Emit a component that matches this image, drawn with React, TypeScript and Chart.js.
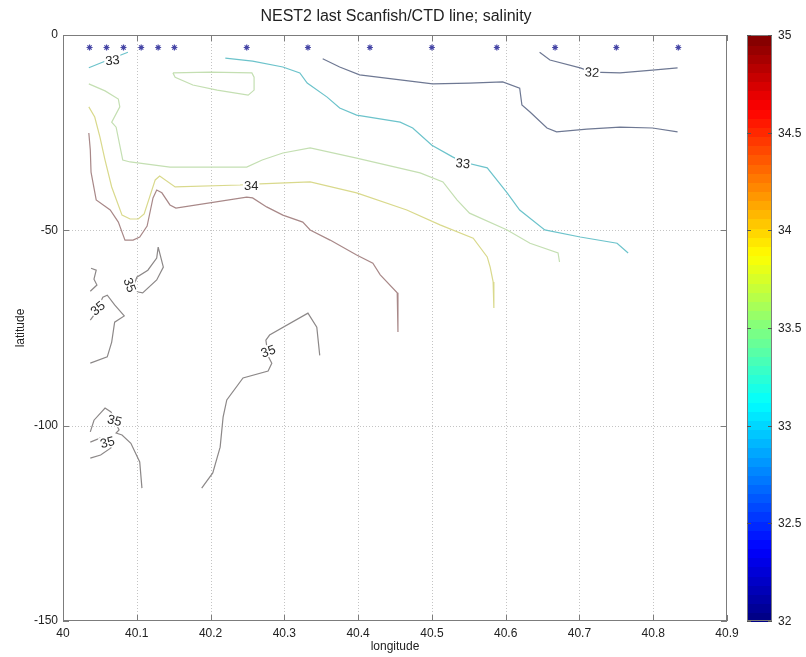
import React, { useEffect, useRef } from 'react';
import { Chart, registerables } from 'chart.js';

Chart.register(...registerables);

// ---- axes ----
const xTickValues = [40, 40.1, 40.2, 40.3, 40.4, 40.5, 40.6, 40.7, 40.8, 40.9];
const yTickValues = [0, -50, -100, -150];
const colorbarTicks = [32, 32.5, 33, 33.5, 34, 34.5, 35];
const colorMin = 32;
const colorMax = 35;

// ---- CTD / Scanfish stations ----
const stationLon = [40.036, 40.059, 40.082, 40.106, 40.129, 40.151, 40.249, 40.332, 40.416, 40.5, 40.588, 40.667, 40.75, 40.834];
const stationLat = [-3.2, -3.2, -3.2, -3.2, -3.2, -3.2, -3.2, -3.2, -3.2, -3.2, -3.2, -3.2, -3.2, -3.2];

// ---- contour lines [lon, lat] ----
const c32North = [[40.646, -4.4], [40.66, -6.4], [40.701, -8.4], [40.717, -9.5], [40.755, -9.7], [40.799, -9.0], [40.833, -8.4]];
const c32South = [[40.352, -6.1], [40.375, -8.2], [40.402, -10.2], [40.457, -11.5], [40.501, -12.5], [40.551, -12.3], [40.596, -12.0], [40.619, -13.6], [40.622, -17.9], [40.633, -19.7], [40.656, -23.8], [40.669, -24.8], [40.71, -24.1], [40.755, -23.6], [40.799, -23.8], [40.833, -24.8]];
const c33West = [[40.035, -8.4], [40.061, -6.4], [40.088, -4.4]];
const c33Main = [[40.22, -5.9], [40.257, -6.7], [40.298, -8.2], [40.321, -9.7], [40.331, -12.3], [40.358, -15.9], [40.375, -18.7], [40.398, -20.5], [40.457, -22.3], [40.474, -23.8], [40.5, -28.2], [40.528, -31.2], [40.542, -32.5], [40.575, -34.0], [40.602, -40.4], [40.619, -44.8], [40.653, -49.9], [40.701, -51.7], [40.751, -53.3], [40.766, -55.8]];
const c33hLoop = [[40.149, -9.7], [40.199, -9.5], [40.256, -9.7], [40.259, -10.8], [40.259, -14.1], [40.251, -15.4], [40.209, -14.1], [40.176, -12.8], [40.152, -10.8], [40.149, -9.7]];
const c33hMain = [[40.035, -12.5], [40.057, -14.3], [40.075, -16.4], [40.077, -18.4], [40.066, -22.3], [40.072, -23.6], [40.081, -32.0], [40.091, -32.5], [40.145, -33.8], [40.249, -33.8], [40.27, -32.0], [40.298, -30.2], [40.335, -28.9], [40.398, -31.5], [40.484, -35.3], [40.515, -37.6], [40.534, -42.2], [40.551, -45.6], [40.602, -49.9], [40.633, -53.3], [40.671, -55.8], [40.673, -58.1]];
const c34Main = [[40.035, -18.4], [40.043, -21.0], [40.05, -26.1], [40.057, -32.0], [40.066, -38.9], [40.08, -46.1], [40.091, -47.1], [40.102, -47.1], [40.11, -45.8], [40.125, -37.1], [40.131, -36.1], [40.152, -38.9], [40.24, -38.4], [40.267, -38.1], [40.335, -37.6], [40.398, -40.4], [40.466, -44.8], [40.511, -48.6], [40.556, -52.0], [40.575, -56.8], [40.579, -59.4], [40.583, -63.2], [40.584, -69.9]];
const c34hMain = [[40.035, -25.1], [40.037, -29.4], [40.038, -35.1], [40.045, -42.2], [40.064, -44.8], [40.075, -47.9], [40.084, -52.5], [40.095, -52.5], [40.104, -51.7], [40.114, -48.9], [40.122, -41.7], [40.127, -39.7], [40.134, -40.4], [40.145, -43.5], [40.153, -44.3], [40.249, -41.5], [40.257, -41.7], [40.276, -44.0], [40.298, -46.1], [40.325, -47.9], [40.335, -49.9], [40.362, -52.5], [40.398, -56.3], [40.42, -58.4], [40.43, -61.4], [40.453, -66.0], [40.454, -76.0]];
const c35a = [[40.129, -54.3], [40.136, -59.4], [40.127, -62.7], [40.108, -66.0], [40.102, -65.8], [40.095, -64.8], [40.1, -62.0], [40.115, -60.2], [40.127, -57.1], [40.129, -54.3]];
const c35b = [[40.038, -59.7], [40.045, -60.2], [40.042, -62.5], [40.046, -64.0], [40.037, -65.6]];
const c35c = [[40.037, -73.0], [40.042, -71.7], [40.047, -69.9], [40.054, -67.1], [40.06, -66.6], [40.07, -69.1], [40.083, -71.9], [40.07, -73.5], [40.066, -78.6], [40.06, -82.4], [40.037, -84.0]];
const c35d = [[40.037, -101.6], [40.042, -98.6], [40.057, -95.5], [40.065, -96.5], [40.07, -98.6], [40.076, -101.1], [40.072, -101.9], [40.08, -102.4], [40.092, -104.5], [40.104, -109.3], [40.107, -116.0]];
const c35e = [[40.037, -104.2], [40.05, -103.2], [40.06, -104.2], [40.065, -105.7], [40.051, -107.5], [40.037, -108.3]];
const c35f = [[40.188, -116.0], [40.203, -112.1], [40.213, -105.5], [40.217, -97.8], [40.222, -93.4], [40.244, -87.8], [40.278, -86.0], [40.283, -84.0], [40.278, -82.2], [40.275, -78.1], [40.28, -76.8], [40.332, -71.2], [40.344, -74.8], [40.348, -82.0]];

// contour labels: text, lon, lat, rotation (deg)
const labelText = ['33', '32', '33', '34', '35', '35', '35', '35', '35'];
const labelLon = [40.067, 40.717, 40.542, 40.255, 40.091, 40.047, 40.278, 40.07, 40.06];
const labelLat = [-6.4, -9.5, -32.8, -38.4, -64.0, -69.9, -80.9, -98.6, -104.2];
const labelAngle = [-5, 3, 5, 0, 70, -40, -20, 15, -15];

const contourLines = [
  { pts: c32North, color: '#6e7893' },
  { pts: c32South, color: '#6e7893' },
  { pts: c33West, color: '#6cc3cb' },
  { pts: c33Main, color: '#6cc3cb' },
  { pts: c33hLoop, color: '#c4dfb2' },
  { pts: c33hMain, color: '#c4dfb2' },
  { pts: c34Main, color: '#d9d98c' },
  { pts: c34hMain, color: '#a88888' },
  { pts: c35a, color: '#8c8888' },
  { pts: c35b, color: '#8c8888' },
  { pts: c35c, color: '#8c8888' },
  { pts: c35d, color: '#8c8888' },
  { pts: c35e, color: '#8c8888' },
  { pts: c35f, color: '#8c8888' },
];

const FONT = '"Liberation Sans", Arial, Helvetica, sans-serif';

function jet(t: number): string {
  const c = (v: number) => Math.round(255 * Math.max(0, Math.min(1, v)));
  const r = 1.5 - Math.abs(4 * t - 3);
  const g = 1.5 - Math.abs(4 * t - 2);
  const b = 1.5 - Math.abs(4 * t - 1);
  return `rgb(${c(r)},${c(g)},${c(b)})`;
}

const decorPlugin = {
  id: 'decor',
  beforeDatasetsDraw(chart: any) {
    const ctx = chart.ctx;
    const { left, right, top, bottom } = chart.chartArea;
    const xs = chart.scales.x;
    const ys = chart.scales.y;
    ctx.save();
    ctx.strokeStyle = '#c4c4c4';
    ctx.lineWidth = 1;
    ctx.setLineDash([1, 2]);
    xTickValues.forEach((v) => {
      const px = Math.round(xs.getPixelForValue(v)) + 0.5;
      if (px <= left + 1 || px >= right - 1) return;
      ctx.beginPath();
      ctx.moveTo(px, top);
      ctx.lineTo(px, bottom);
      ctx.stroke();
    });
    yTickValues.forEach((v) => {
      const py = Math.round(ys.getPixelForValue(v)) + 0.5;
      if (py <= top + 1 || py >= bottom - 1) return;
      ctx.beginPath();
      ctx.moveTo(left, py);
      ctx.lineTo(right, py);
      ctx.stroke();
    });
    ctx.restore();
  },
  afterDatasetsDraw(chart: any) {
    const ctx = chart.ctx;
    const { left, right, top, bottom } = chart.chartArea;
    const xs = chart.scales.x;
    const ys = chart.scales.y;
    ctx.save();
    // box
    ctx.strokeStyle = '#7c7c7c';
    ctx.lineWidth = 1;
    ctx.setLineDash([]);
    ctx.strokeRect(left + 0.5, top + 0.5, right - left - 1, bottom - top - 1);
    // inward ticks
    xTickValues.forEach((v) => {
      const px = Math.round(xs.getPixelForValue(v)) + 0.5;
      ctx.beginPath();
      ctx.moveTo(px, bottom);
      ctx.lineTo(px, bottom - 6);
      ctx.moveTo(px, top);
      ctx.lineTo(px, top + 6);
      ctx.stroke();
    });
    yTickValues.forEach((v) => {
      const py = Math.round(ys.getPixelForValue(v)) + 0.5;
      ctx.beginPath();
      ctx.moveTo(left, py);
      ctx.lineTo(left + 6, py);
      ctx.moveTo(right, py);
      ctx.lineTo(right - 6, py);
      ctx.stroke();
    });

    // contour labels
    ctx.font = `13px ${FONT}`;
    ctx.textAlign = 'center';
    ctx.textBaseline = 'middle';
    labelText.forEach((t, i) => {
      const px = xs.getPixelForValue(labelLon[i]);
      const py = ys.getPixelForValue(labelLat[i]);
      ctx.save();
      ctx.translate(px, py);
      ctx.rotate((labelAngle[i] * Math.PI) / 180);
      const w = ctx.measureText(t).width;
      ctx.fillStyle = '#ffffff';
      ctx.fillRect(-w / 2 - 1, -6, w + 2, 12);
      ctx.fillStyle = '#2a2a2a';
      ctx.fillText(t, 0, 1);
      ctx.restore();
    });

    // title + axis titles
    ctx.fillStyle = '#222222';
    ctx.font = `16px ${FONT}`;
    ctx.textAlign = 'center';
    ctx.textBaseline = 'middle';
    ctx.fillText('NEST2 last Scanfish/CTD line; salinity', (left + right) / 2 + 1, 17);
    ctx.font = `12px ${FONT}`;
    ctx.fillText('longitude', (left + right) / 2, 647);
    ctx.save();
    ctx.translate(21, (top + bottom) / 2);
    ctx.rotate(-Math.PI / 2);
    ctx.fillText('latitude', 0, 0);
    ctx.restore();

    // colorbar
    const cbL = 747;
    const cbR = 772;
    const n = 64;
    const h = (bottom - top) / n;
    for (let i = 0; i < n; i++) {
      ctx.fillStyle = jet((i + 0.5) / n);
      const y0 = bottom - (i + 1) * h;
      ctx.fillRect(cbL, Math.floor(y0), cbR - cbL, Math.ceil(h) + 1);
    }
    ctx.strokeStyle = '#7c7c7c';
    ctx.strokeRect(cbL + 0.5, top + 0.5, cbR - cbL - 1, bottom - top - 1);
    ctx.font = `12px ${FONT}`;
    ctx.textAlign = 'left';
    ctx.fillStyle = '#222222';
    colorbarTicks.forEach((v) => {
      const py = Math.round(bottom - ((v - colorMin) / (colorMax - colorMin)) * (bottom - top)) + 0.5;
      ctx.strokeStyle = '#555555';
      ctx.beginPath();
      ctx.moveTo(cbL, py);
      ctx.lineTo(cbL + 4, py);
      ctx.moveTo(cbR, py);
      ctx.lineTo(cbR - 4, py);
      ctx.stroke();
      ctx.fillText(String(v), 778, py);
    });
    ctx.restore();
  },
};

export default function App() {
  const ref = useRef<HTMLCanvasElement | null>(null);
  useEffect(() => {
    if (!ref.current) return;
    const datasets: any[] = contourLines.map((l) => ({
      data: l.pts.map(([x, y]) => ({ x, y })),
      borderColor: l.color,
      backgroundColor: l.color,
      borderWidth: 1.2,
      pointRadius: 0,
      showLine: true,
      fill: false,
      tension: 0,
    }));
    datasets.push({
      data: stationLon.map((x, i) => ({ x, y: stationLat[i] })),
      borderColor: '#4646a6',
      backgroundColor: '#4646a6',
      pointStyle: 'star',
      pointRadius: 3,
      pointBorderWidth: 1.2,
      showLine: false,
    });
    const chart = new Chart(ref.current, {
      type: 'scatter',
      data: { datasets },
      options: {
        animation: false,
        responsive: false,
        devicePixelRatio: 1,
        layout: { padding: { left: 0, top: 35, right: 79, bottom: 0 } },
        plugins: { legend: { display: false }, tooltip: { enabled: false }, title: { display: false } },
        scales: {
          x: {
            type: 'linear',
            min: 40,
            max: 40.9,
            grid: { display: false, drawTicks: false },
            border: { display: false },
            afterBuildTicks: (s: any) => {
              s.ticks = xTickValues.map((v) => ({ value: v }));
            },
            afterFit: (s: any) => {
              s.height = 36;
            },
            ticks: {
              autoSkip: false,
              maxRotation: 0,
              padding: 5,
              color: '#222222',
              font: { family: FONT, size: 12 },
              callback: (v: any) => String(Number(Number(v).toFixed(1))),
            },
          },
          y: {
            type: 'linear',
            min: -150,
            max: 0,
            grid: { display: false, drawTicks: false },
            border: { display: false },
            afterBuildTicks: (s: any) => {
              s.ticks = yTickValues.map((v) => ({ value: v }));
            },
            afterFit: (s: any) => {
              s.width = 63;
            },
            ticks: {
              padding: 5,
              color: '#222222',
              font: { family: FONT, size: 12 },
              callback: (v: any) => String(v),
            },
          },
        },
      },
      plugins: [decorPlugin],
    });
    return () => chart.destroy();
  }, []);
  return (
    <div style={{ position: 'fixed', left: 0, top: 0, width: 806, height: 657, background: '#ffffff' }}>
      <canvas ref={ref} width={806} height={657} style={{ display: 'block', width: 806, height: 657 }} />
    </div>
  );
}
